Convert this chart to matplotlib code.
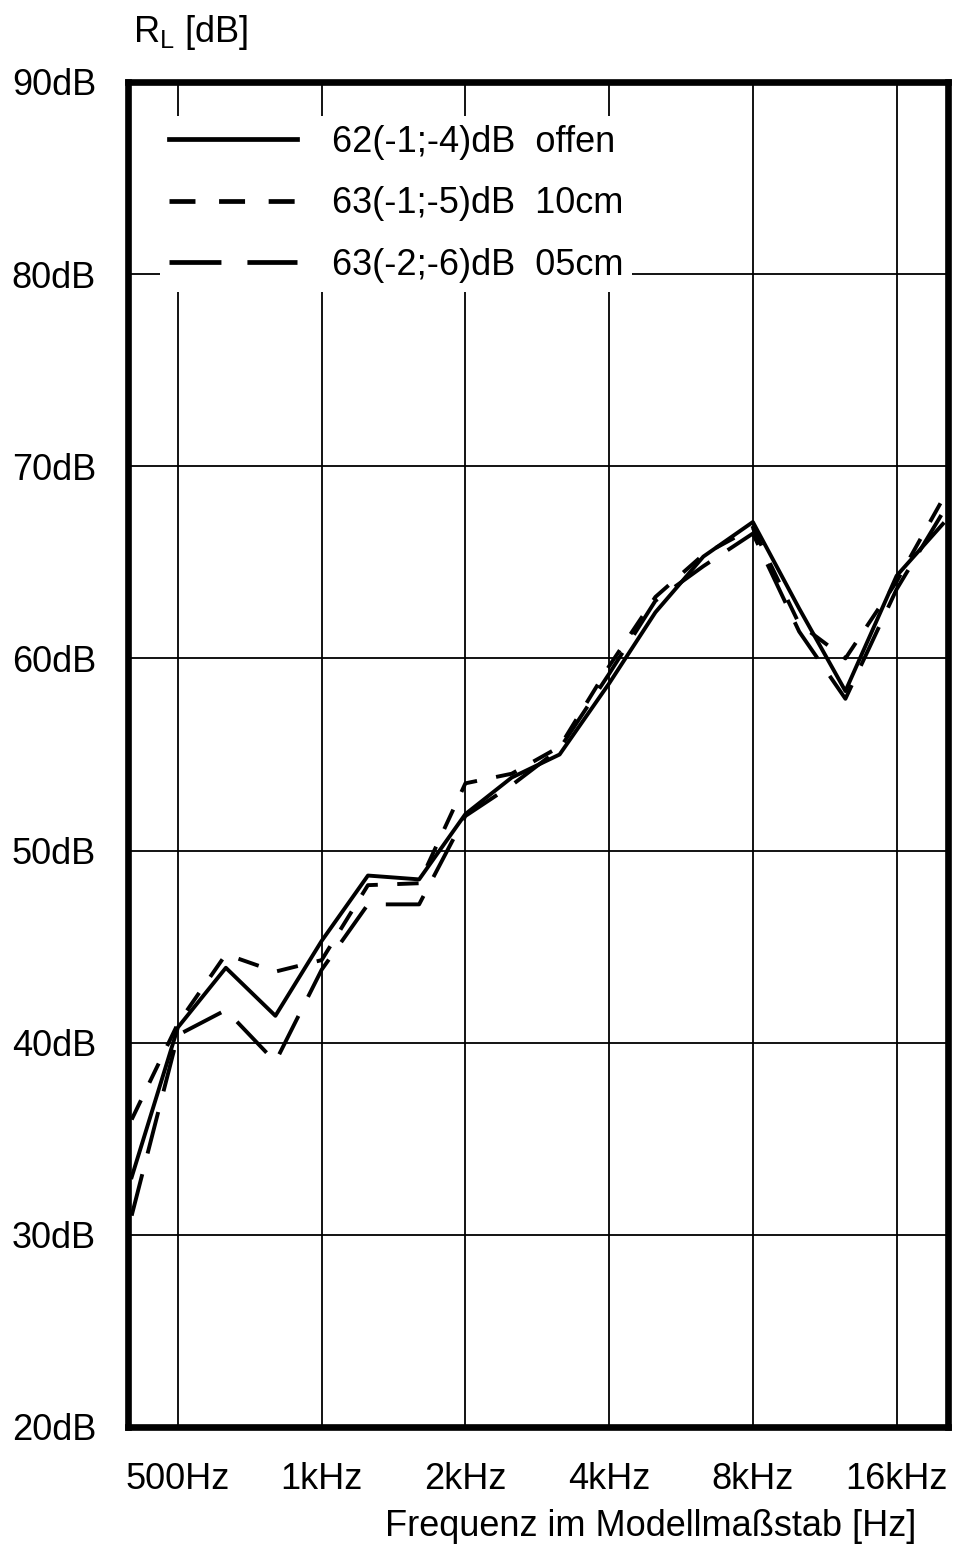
import matplotlib.pyplot as plt

plt.rcParams['font.family'] = ['Liberation Sans', 'DejaVu Sans']
plt.rcParams['mathtext.fontset'] = 'custom'
plt.rcParams['mathtext.rm'] = 'Liberation Sans'

# third-octave band centre frequencies (model scale)
freq = [400, 500, 630, 800, 1000, 1250, 1600, 2000, 2500, 3150,
        4000, 5000, 6300, 8000, 10000, 12500, 16000, 20000]

# sound reduction index R_L in dB
offen = [33.0, 40.8, 43.9, 41.4, 45.3, 48.7, 48.5, 51.9, 53.8, 55.0,
         58.7, 62.4, 65.3, 67.1, 62.6, 58.3, 64.3, 67.0]
cm10 = [36.0, 41.0, 44.6, 43.7, 44.3, 48.2, 48.3, 53.5, 54.0, 55.4,
        59.6, 63.2, 65.4, 66.8, 61.8, 60.0, 64.0, 68.3]
cm05 = [31.0, 40.4, 41.7, 39.0, 43.8, 47.2, 47.2, 51.8, 53.4, 55.3,
        59.2, 63.0, 64.8, 66.5, 61.4, 57.9, 63.6, 67.6]

labels = ['62(-1;-4)dB  offen', '63(-1;-5)dB  10cm', '63(-2;-6)dB  05cm']

xticks = [500, 1000, 2000, 4000, 8000, 16000]
xticklabels = ['500Hz', '1kHz', '2kHz', '4kHz', '8kHz', '16kHz']
yticks = [20, 30, 40, 50, 60, 70, 80, 90]

fs = 26

fig = plt.figure(figsize=(9.55, 15.44), dpi=100)
ax = fig.add_axes([128 / 955, 1 - 1427 / 1544, 820 / 955, 1345 / 1544])

lw = 2.8
ax.plot(freq, offen, color='black', lw=lw, label=labels[0], zorder=3)
ax.plot(freq, cm10, color='black', lw=lw, dashes=(5.5, 5), label=labels[1], zorder=3)
ax.plot(freq, cm05, color='black', lw=lw, dashes=(11, 5.5), label=labels[2], zorder=3)

ax.set_xscale('log')
ax.set_xlim(393, 20500)
ax.set_ylim(20, 90)
ax.set_xticks(xticks)
ax.set_xticklabels(xticklabels)
ax.xaxis.set_minor_locator(plt.NullLocator())
ax.set_yticks(yticks)
ax.set_yticklabels([f'{v}dB' for v in yticks])
ax.tick_params(axis='both', length=0, labelsize=fs, colors='black')
ax.tick_params(axis='y', pad=23)
ax.tick_params(axis='x', pad=25)

ax.grid(True, color='black', lw=1.3)
ax.set_axisbelow(True)
for s in ax.spines.values():
    s.set_linewidth(4.8)
    s.set_zorder(6)

leg = ax.legend(loc='upper left', bbox_to_anchor=(0.039, 0.975), fontsize=fs,
                handlelength=3.55, handletextpad=0.95, labelspacing=0.74,
                frameon=True, fancybox=False, edgecolor='none', facecolor='white',
                framealpha=1, borderpad=0.25, borderaxespad=0)
for h in leg.get_lines():
    h.set_linewidth(3.4)
leg.set_zorder(5)

fig.text(133 / 955, 1 - 32 / 1544, r'R$_{\mathrm{L}}$ [dB]', fontsize=fs, va='center')
fig.text(916 / 955, 1 - 1527 / 1544, 'Frequenz im Modellmaßstab [Hz]',
         fontsize=fs, ha='right', va='center')

fig.savefig('out.png', dpi=100)
